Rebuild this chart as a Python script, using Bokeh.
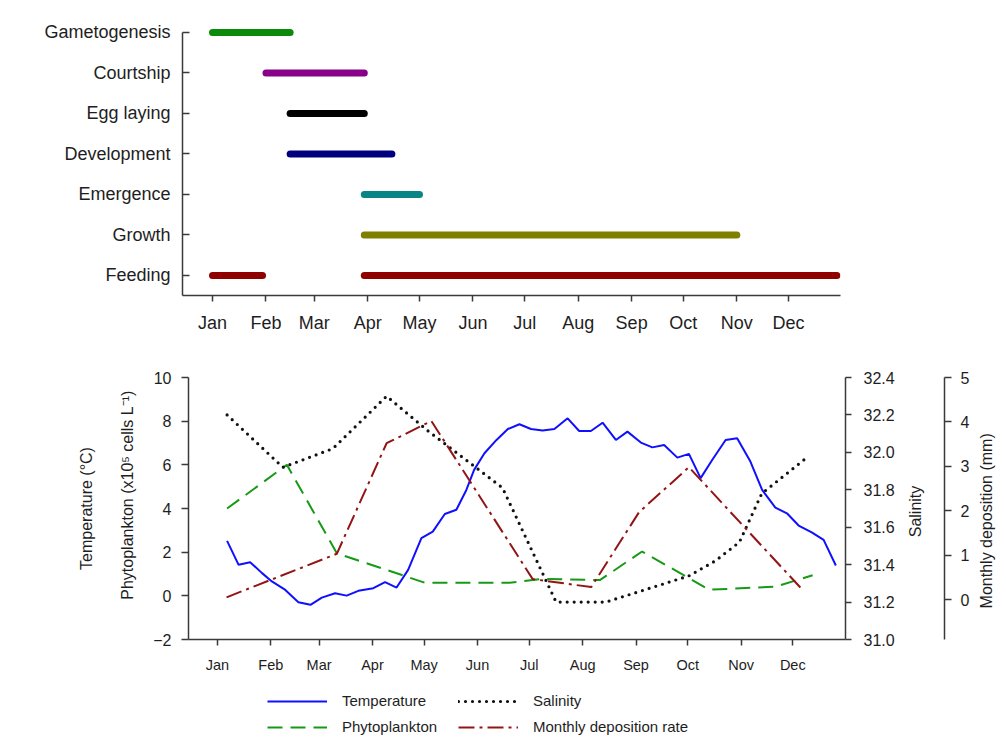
import math
from bokeh.plotting import figure
from bokeh.models import (Range1d, LinearAxis, FixedTicker, Legend, LegendItem,
                          PrintfTickFormatter)
from bokeh.layouts import column
from bokeh.embed import file_html
from bokeh.resources import INLINE

FONT = "Liberation Sans"
TXT = "#1e1e1e"
AX = "#3a3a3a"
NB = "\u00a0"

# ---------------- data ----------------
months = ["Jan", "Feb", "Mar", "Apr", "May", "Jun", "Jul", "Aug", "Sep", "Oct", "Nov", "Dec"]
month_days = [0, 31, 59, 90, 120, 151, 181, 212, 243, 273, 304, 334]

stage_order = ["Feeding", "Growth", "Emergence", "Development", "Egg laying", "Courtship", "Gametogenesis"]
bar_stage = ["Gametogenesis", "Courtship", "Egg laying", "Development", "Emergence", "Growth", "Feeding", "Feeding"]
bar_start = [0, 31, 45, 45, 88, 88, 0, 88]
bar_end = [45, 88, 88, 104, 120, 304, 29, 362]
bar_color = ["#0b8a0b", "#870087", "#000000", "#00007f", "#0a8585", "#7f7f00", "#8f0000", "#8f0000"]

temp_day = [5.6, 12.3, 19.0, 25.9, 31.6, 39.4, 47.0, 54.0, 60.6, 68.3, 75.0, 81.8, 90.5,
            97.3, 104.0, 110.7, 118.4, 125.0, 132.0, 138.7, 144.5, 149.0, 155.0, 162.0,
            168.6, 175.3, 182.0, 188.8, 195.6, 203.3, 210.0, 216.8, 223.6, 231.3, 238.0,
            245.8, 252.5, 259.3, 267.0, 273.7, 280.5, 287.2, 295.0, 301.7, 309.4, 316.2,
            323.9, 330.6, 337.4, 345.0, 351.9, 359.0]
temp_val = [2.52, 1.42, 1.54, 1.04, 0.66, 0.27, -0.29, -0.41, -0.08, 0.12, 0.01, 0.23, 0.35,
            0.63, 0.38, 1.19, 2.64, 2.94, 3.75, 3.94, 4.85, 5.77, 6.53, 7.14,
            7.64, 7.86, 7.64, 7.57, 7.64, 8.13, 7.55, 7.55, 7.93, 7.14, 7.52,
            7.02, 6.80, 6.91, 6.33, 6.50, 5.39, 6.22, 7.14, 7.22, 6.15, 4.85,
            4.04, 3.78, 3.22, 2.91, 2.56, 1.39]

phyto_day = [5.6, 40.3, 69.3, 120.4, 169.6, 189.0, 222.0, 246.5, 285.5, 324.0, 345.5]
phyto_val = [4.0, 6.0, 1.95, 0.6, 0.6, 0.78, 0.72, 2.03, 0.28, 0.42, 0.94]

sal_day = [5.6, 38.0, 67.0, 98.2, 121.5, 165.5, 196.6, 225.5, 273.7, 289.0, 303.0, 316.0, 343.2]
sal_val = [32.20, 31.92, 32.02, 32.30, 32.12, 31.81, 31.20, 31.20, 31.34, 31.42, 31.52, 31.78, 31.98]

dep_day = [5.3, 69.3, 98.2, 124.2, 183.0, 217.0, 244.8, 273.7, 338.4]
dep_val = [0.05, 1.03, 3.52, 4.02, 0.46, 0.28, 1.97, 2.98, 0.27]

sal_ticks = [31.0, 31.2, 31.4, 31.6, 31.8, 32.0, 32.2, 32.4]
dep_ticks = [0, 1, 2, 3, 4, 5]
left_ticks = [-2, 0, 2, 4, 6, 8, 10]


def style_axis(ax, size):
    ax.axis_line_color = AX
    ax.axis_line_width = 1.5
    ax.major_tick_line_color = AX
    ax.major_tick_line_width = 1.5
    ax.minor_tick_line_color = None
    ax.major_label_text_font = FONT
    ax.major_label_text_font_size = size
    ax.major_label_text_color = TXT
    ax.axis_label_text_font = FONT
    ax.axis_label_text_font_style = "normal"
    ax.axis_label_text_color = TXT


def no_align(p):
    try:
        p.frame_align = False
    except Exception:
        pass


def upright_label(ax, text, pad):
    # right-hand label reading bottom-to-top, started from the bottom of the axis
    try:
        ax.axis_label_orientation = math.pi / 2
        ax.axis_label_align = "start"
        ax.axis_label_text_baseline = "top"
        ax.axis_label = NB * pad + text
    except Exception:
        ax.axis_label = text


W = 1006

# ---------------- top: phenology ----------------
p1 = figure(width=W, height=345, output_backend="svg", toolbar_location=None,
            x_range=Range1d(-17.4, 364.1), y_range=Range1d(-0.494, 6.395),
            min_border_left=182, min_border_right=W - 840,
            min_border_top=16, min_border_bottom=50)
no_align(p1)
p1.outline_line_color = None
p1.xgrid.visible = False
p1.ygrid.visible = False

ypos = [stage_order.index(s) for s in bar_stage]
p1.segment(x0=bar_start, x1=bar_end, y0=ypos, y1=ypos, line_color=bar_color,
           line_width=7, line_cap="round")

xa = p1.xaxis[0]
style_axis(xa, "18px")
xa.ticker = FixedTicker(ticks=month_days)
xa.major_label_overrides = {d: m for d, m in zip(month_days, months)}
xa.major_tick_out = 6
xa.major_tick_in = 0
xa.major_label_standoff = 11

ya = p1.yaxis[0]
style_axis(ya, "18px")
ya.ticker = FixedTicker(ticks=list(range(len(stage_order))))
ya.major_label_overrides = {i: s for i, s in enumerate(stage_order)}
ya.major_tick_in = 7
ya.major_tick_out = 0
ya.major_label_standoff = 12
ya.bounds = (-0.494, 6)

# ---------------- bottom: environment ----------------
p2 = figure(width=W, height=339, output_backend="svg", toolbar_location=None,
            x_range=Range1d(-16.8, 364.6), y_range=Range1d(-2, 10),
            min_border_left=188, min_border_right=W - 847,
            min_border_top=32, min_border_bottom=45)
no_align(p2)
p2.outline_line_color = None
p2.xgrid.visible = False
p2.ygrid.visible = False
p2.extra_y_ranges = {"sal": Range1d(31.0, 32.4), "dep": Range1d(-0.9, 5.0)}

line_styles = dict(
    temp=dict(line_color="#1010ff", line_width=2),
    phyto=dict(line_color="#169a16", line_width=2, line_dash="15 8"),
    sal=dict(line_color="#111111", line_width=3.2, line_dash="0 7", line_cap="round"),
    dep=dict(line_color="#931414", line_width=2, line_dash="16 5 3 5"),
)

p2.line(temp_day, temp_val, **line_styles["temp"])
p2.line(phyto_day, phyto_val, **line_styles["phyto"])
p2.line(sal_day, sal_val, y_range_name="sal", **line_styles["sal"])
p2.line(dep_day, dep_val, y_range_name="dep", **line_styles["dep"])

bx = p2.xaxis[0]
style_axis(bx, "14.5px")
bx.ticker = FixedTicker(ticks=month_days)
bx.major_label_overrides = {d: m for d, m in zip(month_days, months)}
bx.major_tick_out = 6
bx.major_tick_in = 0
bx.major_label_standoff = 11

ly = p2.yaxis[0]
style_axis(ly, "16px")
ly.ticker = FixedTicker(ticks=left_ticks)
ly.major_tick_out = 7
ly.major_tick_in = 0
ly.major_label_standoff = 10
ly.axis_label = NB * 6 + "Phytoplankton (x10\u2075 cells L\u207b\u00b9)"
ly.axis_label_text_font_size = "16px"
ly.axis_label_standoff = 14

tax = LinearAxis(ticker=FixedTicker(ticks=[]), axis_label="Temperature (\u00b0C)")
style_axis(tax, "16px")
tax.axis_line_color = None
tax.major_tick_out = 0
tax.major_tick_in = 0
tax.axis_label_text_font_size = "16px"
tax.axis_label_standoff = 22
p2.add_layout(tax, "left")

sax = LinearAxis(y_range_name="sal", ticker=FixedTicker(ticks=sal_ticks),
                 formatter=PrintfTickFormatter(format="%.1f"))
style_axis(sax, "16px")
sax.major_tick_out = 6
sax.major_tick_in = 0
sax.major_label_standoff = 12
sax.axis_label_text_font_size = "16px"
sax.axis_label_standoff = 18
upright_label(sax, "Salinity", 23)
p2.add_layout(sax, "right")

# empty gap between the two right-hand axes: one invisible tick, no label
spacer = LinearAxis(y_range_name="sal", ticker=FixedTicker(ticks=[31.0]))
spacer.major_label_overrides = {31.0: ""}
spacer.axis_line_color = None
spacer.major_tick_line_color = None
spacer.minor_tick_line_color = None
spacer.major_tick_out = 9
spacer.major_tick_in = 0
spacer.major_label_standoff = 0
p2.add_layout(spacer, "right")

dax = LinearAxis(y_range_name="dep", ticker=FixedTicker(ticks=dep_ticks))
style_axis(dax, "16px")
dax.major_tick_out = 7
dax.major_tick_in = 0
dax.major_label_standoff = 9
dax.axis_label_text_font_size = "16px"
dax.axis_label_standoff = 14
upright_label(dax, "Monthly deposition (mm)", 7)
p2.add_layout(dax, "right")

# ---------------- legend strip ----------------
p3 = figure(width=W, height=59, output_backend="svg", toolbar_location=None,
            x_axis_type=None, y_axis_type=None,
            min_border_left=188, min_border_right=W - 847, min_border_top=0, min_border_bottom=0,
            x_range=Range1d(0, 1), y_range=Range1d(0, 1))
no_align(p3)
p3.outline_line_color = None
p3.xgrid.visible = False
p3.ygrid.visible = False
hidden = ([-5, -4], [-5, -4])
lt = p3.line(*hidden, **line_styles["temp"])
lp = p3.line(*hidden, **line_styles["phyto"])
ls = p3.line(*hidden, **line_styles["sal"])
ld = p3.line(*hidden, **line_styles["dep"])

leg_kw = dict(orientation="vertical", glyph_width=60, glyph_height=16, label_height=16,
              label_standoff=15, spacing=9, padding=0, margin=0,
              border_line_color=None, background_fill_alpha=0,
              label_text_font=FONT, label_text_font_size="15px", label_text_color=TXT)
leg1 = Legend(items=[LegendItem(label="Temperature", renderers=[lt]),
                     LegendItem(label="Phytoplankton", renderers=[lp])],
              location=(267 - 188, 8), **leg_kw)
leg2 = Legend(items=[LegendItem(label="Salinity", renderers=[ls]),
                     LegendItem(label="Monthly deposition rate", renderers=[ld])],
              location=(458 - 188, 8), **leg_kw)
p3.add_layout(leg1)
p3.add_layout(leg2)

layout = column(p1, p2, p3, spacing=0)
open("out.html", "w").write(file_html(layout, INLINE))
